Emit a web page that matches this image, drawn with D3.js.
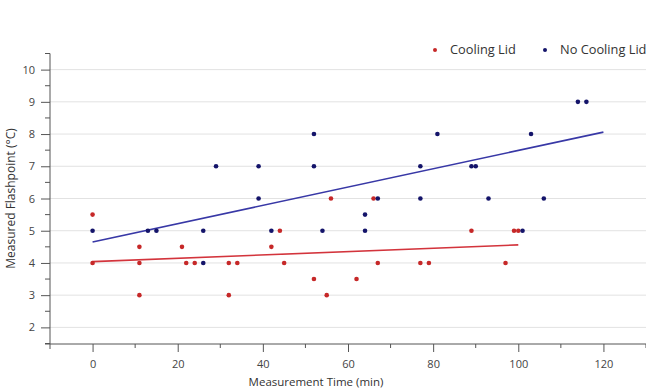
<!DOCTYPE html>
<html>
<head>
<meta charset="utf-8">
<script src="https://cdn.jsdelivr.net/npm/d3@7"></script>
<style>
  body { margin: 0; background: #fff; }
  text { font-family: "Open Sans", "Noto Sans", sans-serif; }
  .axis path, .axis line { stroke: #555; }
  .axis text { fill: #444; font-size: 11px; }
</style>
</head>
<body>
<script>
// ---- data ----
const coolTime = [0, 0, 11, 11, 11, 21, 22, 24, 32, 32, 34, 42, 44, 45, 52, 55, 56, 62, 66, 67, 77, 79, 89, 97, 99, 100];
const coolTemp = [5.5, 4, 4.5, 4, 3, 4.5, 4, 4, 4, 3, 4, 4.5, 5, 4, 3.5, 3, 6, 3.5, 6, 4, 4, 4, 5, 4, 5, 5];
const openTime = [0, 13, 15, 26, 26, 29, 39, 39, 42, 52, 52, 54, 64, 64, 67, 77, 77, 81, 89, 90, 93, 101, 103, 106, 114, 116];
const openTemp = [5, 5, 5, 5, 4, 7, 7, 6, 5, 8, 7, 5, 5.5, 5, 6, 7, 6, 8, 7, 7, 6, 5, 8, 6, 9, 9];
// linear fit lines (end points)
const coolFitTime = [0, 100];
const coolFitTemp = [4.04, 4.56];
const openFitTime = [0, 120];
const openFitTemp = [4.65, 8.06];

const seriesNames = ["Cooling Lid", "No Cooling Lid"];
const xMajor = [0, 20, 40, 60, 80, 100, 120];
const xMinor = [10, 30, 50, 70, 90, 110, 130];
const yMajor = [2, 3, 4, 5, 6, 7, 8, 9, 10];
const yMinor = [1.5, 2.5, 3.5, 4.5, 5.5, 6.5, 7.5, 8.5, 9.5, 10.5];

const width = 646, height = 390;
const red = "#c62828", redLine = "#d3343c";
const blue = "#14146a", blueLine = "#3838a6";

const svg = d3.select("body").append("svg")
  .attr("width", width)
  .attr("height", height);

const x = d3.scaleLinear().domain([-10, 130]).range([50, 646]);
const y = d3.scaleLinear().domain([1.5, 10.5]).range([343.5, 53.5]);

// grid
svg.append("g").selectAll("line")
  .data(yMajor)
  .join("line")
  .attr("x1", x(-10)).attr("x2", width)
  .attr("y1", d => y(d)).attr("y2", d => y(d))
  .attr("stroke", "#e2e2e2");

// x axis
const xAxisY = 344;
const gx = svg.append("g").attr("class", "axis")
  .attr("transform", `translate(0,${xAxisY})`);
gx.call(d3.axisBottom(x).tickValues(xMajor).tickSize(8).tickPadding(8).tickSizeOuter(0));
gx.select(".domain").remove();
gx.append("line").attr("x1", 45).attr("x2", width).attr("stroke", "#555");
gx.append("g").selectAll("line")
  .data(xMinor)
  .join("line")
  .attr("x1", d => x(d)).attr("x2", d => x(d))
  .attr("y1", 0).attr("y2", 4)
  .attr("stroke", "#555");

// y axis
const gy = svg.append("g").attr("class", "axis")
  .attr("transform", `translate(${x(-10)},0)`);
gy.call(d3.axisLeft(y).tickValues(yMajor).tickSize(9).tickPadding(6).tickSizeOuter(0));
gy.select(".domain").remove();
gy.append("line").attr("y1", y(10.5)).attr("y2", 349).attr("stroke", "#555");
gy.append("g").selectAll("line")
  .data(yMinor)
  .join("line")
  .attr("y1", d => y(d)).attr("y2", d => y(d))
  .attr("x1", 0).attr("x2", -5)
  .attr("stroke", "#555");

// axis titles
svg.append("text")
  .attr("x", 316).attr("y", 386)
  .attr("text-anchor", "middle")
  .attr("font-size", 11.5)
  .attr("fill", "#333")
  .text("Measurement Time (min)");

svg.append("text")
  .attr("transform", `translate(15,${y(6)}) rotate(-90)`)
  .attr("text-anchor", "middle")
  .attr("font-size", 12)
  .attr("fill", "#333")
  .text("Measured Flashpoint (°C)");

// fit lines
const line = d3.line().x(d => x(d[0])).y(d => y(d[1]));
svg.append("path")
  .datum(d3.zip(coolFitTime, coolFitTemp))
  .attr("d", line).attr("fill", "none")
  .attr("stroke", redLine).attr("stroke-width", 1.6);
svg.append("path")
  .datum(d3.zip(openFitTime, openFitTemp))
  .attr("d", line).attr("fill", "none")
  .attr("stroke", blueLine).attr("stroke-width", 1.6);

// points
svg.append("g").selectAll("circle")
  .data(d3.zip(coolTime, coolTemp))
  .join("circle")
  .attr("cx", d => x(d[0])).attr("cy", d => y(d[1]))
  .attr("r", 2.3).attr("fill", red);

svg.append("g").selectAll("circle")
  .data(d3.zip(openTime, openTemp))
  .join("circle")
  .attr("cx", d => x(d[0])).attr("cy", d => y(d[1]))
  .attr("r", 2.3).attr("fill", blue);

// legend
const legend = svg.append("g");
const legendX = [435, 545];
[red, blue].forEach((c, i) => {
  legend.append("circle")
    .attr("cx", legendX[i]).attr("cy", 50).attr("r", 2)
    .attr("fill", c);
  legend.append("text")
    .attr("x", legendX[i] + 15).attr("y", 54)
    .attr("font-size", 12.8)
    .attr("fill", "#333")
    .text(seriesNames[i]);
});
</script>
</body>
</html>
